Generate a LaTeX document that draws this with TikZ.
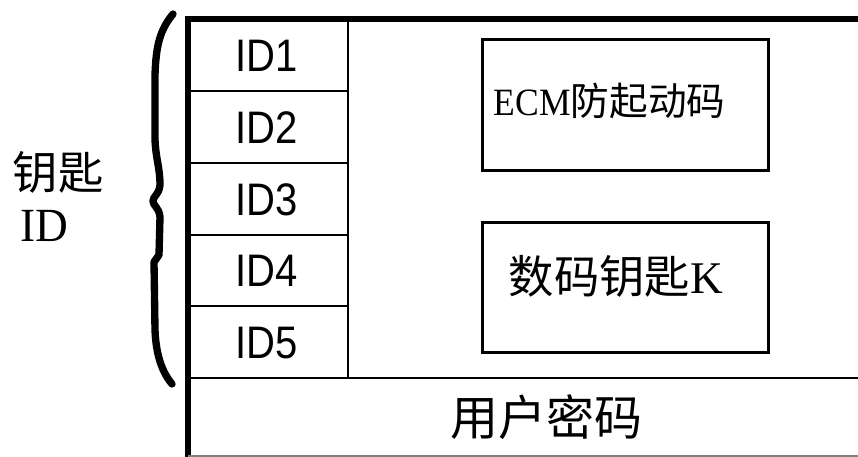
\documentclass[tikz,border=0pt]{standalone}
\usepackage{fontspec}
\setmainfont{Liberation Serif}
\setsansfont{Liberation Sans}
\newfontfamily\cjk{Noto Sans CJK SC}
\begin{document}
\begin{tikzpicture}[x=0.75pt,y=-0.75pt,
  frame/.style={line width=5pt},
  thin/.style={line width=2.2pt},
  idlab/.style={font=\sffamily\fontsize{30pt}{30pt}\selectfont},
  box/.style={draw,line width=2.2pt,minimum width=214pt,minimum height=98pt,inner sep=0pt}]
\useasboundingbox (0,0) rectangle (858,457);
% outer frame
\coordinate (tl) at (188,19);
\coordinate (tr) at (860,19);
\coordinate (bl) at (188,459);
\draw[frame] (tr) -- (tl) -- (bl);
\draw[gray,line width=0.8pt] (188,456) -- (860,456);
% ID column
\draw[thin] (348,19) -- (348,378);
\draw[thin] (188,378) -- (860,378);
\foreach \y in {91,163,235,306} \draw[thin] (188,\y) -- (348,\y);
\node[idlab] (id1) at (267,56) {\scalebox{1}[1.14]{ID1}};
\node[idlab] (id2) at (267,128) {\scalebox{1}[1.14]{ID2}};
\node[idlab] (id3) at (267,200) {\scalebox{1}[1.14]{ID3}};
\node[idlab] (id4) at (267,271) {\scalebox{1}[1.14]{ID4}};
\node[idlab] (id5) at (267,343) {\scalebox{1}[1.14]{ID5}};
% boxes
\node[box] (ecm) at (625.5,105) {};
\node[anchor=west,font=\fontsize{29pt}{29pt}\selectfont] (ecmt) at (489,101) {\scalebox{0.92}[1]{ECM}{\cjk 防起动码}};
\node[box] (key) at (625.5,287.5) {};
\node[font=\fontsize{34pt}{34pt}\selectfont] (keyt) at (616,276) {{\cjk 数码钥匙}K};
\node[font=\cjk\fontsize{36pt}{36pt}\selectfont] (user) at (546,417) {用户密码};
% left label
\node[font=\cjk\fontsize{34pt}{34pt}\selectfont,anchor=west] (yc) at (8,172) {钥匙};
\node[font=\fontsize{34pt}{34pt}\selectfont,anchor=west] (idl) at (16,226) {\scalebox{1}[1.05]{ID}};
% brace
\draw[line width=5.5pt,line cap=round,line join=round]
  (173,14) .. controls (160,30) and (156,45) .. (155,75)
  -- (155,140) .. controls (156,160) and (160,168) .. (160,185)
  .. controls (159,195) and (153,196) .. (153,201)
  .. controls (153,206) and (159,207) .. (160,217)
  -- (159,255) -- (154,262) -- (155,330)
  .. controls (156,355) and (162,372) .. (172,384);
\end{tikzpicture}
\end{document}
